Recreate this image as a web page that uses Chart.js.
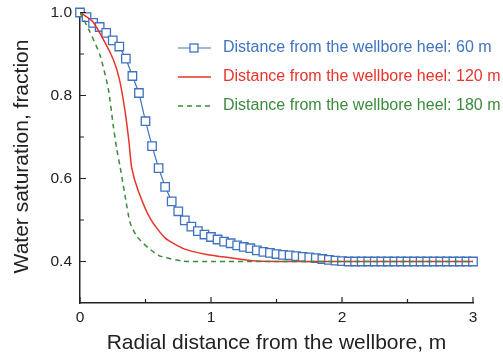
<!DOCTYPE html>
<html>
<head>
<meta charset="utf-8">
<script src="https://cdn.jsdelivr.net/npm/chart.js@4/dist/chart.umd.min.js"></script>
<style>
  html, body { margin: 0; padding: 0; background: #fff; }
  #wrap { width: 503px; height: 358px; }
</style>
</head>
<body>
<div id="wrap"><canvas id="chart" width="503" height="358"></canvas></div>
<script>
// Water saturation profiles vs radial distance
const SERIES_NAMES = [
  'Distance from the wellbore heel: 60 m',
  'Distance from the wellbore heel: 120 m',
  'Distance from the wellbore heel: 180 m',
];

const X_60 = [
  0, 0.05, 0.1, 0.15, 0.2, 0.25, 0.3, 0.35, 0.4, 0.45,
  0.5, 0.55, 0.6, 0.65, 0.7, 0.75, 0.8, 0.85, 0.9, 0.95,
  1.0, 1.05, 1.1, 1.15, 1.2, 1.25, 1.3, 1.35, 1.4, 1.45,
  1.5, 1.55, 1.6, 1.65, 1.7, 1.75, 1.8, 1.85, 1.9, 1.95,
  2.0, 2.05, 2.1, 2.15, 2.2, 2.25, 2.3, 2.35, 2.4, 2.45,
  2.5, 2.55, 2.6, 2.65, 2.7, 2.75, 2.8, 2.85, 2.9, 2.95, 3.0,
];
const Y_60 = [
  1.0, 0.989, 0.975, 0.965, 0.951, 0.933, 0.918, 0.889, 0.847, 0.806,
  0.738, 0.678, 0.625, 0.580, 0.545, 0.521, 0.499, 0.484, 0.473, 0.465,
  0.459, 0.453, 0.448, 0.444, 0.439, 0.435, 0.432, 0.427, 0.423, 0.421,
  0.418, 0.416, 0.415, 0.413, 0.411, 0.410, 0.408, 0.406, 0.404, 0.402,
  0.401, 0.400, 0.400, 0.400, 0.400, 0.400, 0.400, 0.400, 0.400, 0.400,
  0.400, 0.400, 0.400, 0.400, 0.400, 0.400, 0.400, 0.400, 0.400, 0.400, 0.400,
];

const X_120 = [0, 0.1, 0.24, 0.3, 0.345, 0.375, 0.394, 0.445, 0.539, 0.649, 0.789, 0.967, 1.145, 1.32, 1.6, 2.0, 2.5, 3.0];
const Y_120 = [1.0, 0.977, 0.897, 0.84, 0.76, 0.685, 0.627, 0.570, 0.502, 0.457, 0.431, 0.417, 0.409, 0.402, 0.400, 0.400, 0.400, 0.400];

const X_180 = [0, 0.076, 0.153, 0.216, 0.254, 0.28, 0.305, 0.344, 0.382, 0.433, 0.52, 0.611, 0.789, 1.0, 1.5, 2.0, 2.5, 3.0];
const Y_180 = [1.0, 0.953, 0.897, 0.816, 0.727, 0.672, 0.630, 0.558, 0.494, 0.461, 0.433, 0.413, 0.401, 0.400, 0.400, 0.400, 0.400, 0.400];

const X_TICKS = [0, 1, 2, 3];
const X_MINOR = [0.5, 1.5, 2.5];
const Y_TICKS = [0.4, 0.6, 0.8, 1.0];
const Y_MINOR = [0.5, 0.7, 0.9];

const BLUE = '#3f72c0';
const RED = '#e8342a';
const GREEN = '#3a8c3a';
const FONT = 'Liberation Sans, Arial, sans-serif';

function toPoints(xs, ys) {
  return xs.map((x, i) => ({ x, y: ys[i] }));
}

// inward ticks + in-plot legend
const extras = {
  id: 'extras',
  afterDraw(chart) {
    const ctx = chart.ctx;
    const xs = chart.scales.x, ys = chart.scales.y;
    const ax = xs.left, ay = ys.bottom;
    ctx.save();
    ctx.strokeStyle = '#222';
    ctx.lineWidth = 1.2;
    ctx.beginPath();
    X_TICKS.forEach(v => { const p = xs.getPixelForValue(v); ctx.moveTo(p, ay); ctx.lineTo(p, ay - 6); });
    X_MINOR.forEach(v => { const p = xs.getPixelForValue(v); ctx.moveTo(p, ay); ctx.lineTo(p, ay - 4); });
    Y_TICKS.forEach(v => { const p = ys.getPixelForValue(v); ctx.moveTo(ax, p); ctx.lineTo(ax + 6, p); });
    Y_MINOR.forEach(v => { const p = ys.getPixelForValue(v); ctx.moveTo(ax, p); ctx.lineTo(ax + 4, p); });
    ctx.stroke();

    // legend
    const rows = [
      { y: 48, color: BLUE, dash: [], marker: true, width: 1.2 },
      { y: 77, color: RED, dash: [], marker: false, width: 1.5 },
      { y: 106, color: GREEN, dash: [5, 4], marker: false, width: 1.5 },
    ];
    ctx.font = '16px ' + FONT;
    ctx.textBaseline = 'middle';
    ctx.textAlign = 'left';
    rows.forEach((r, i) => {
      ctx.strokeStyle = r.color;
      ctx.lineWidth = r.width;
      ctx.setLineDash(r.dash);
      ctx.beginPath();
      ctx.moveTo(178, r.y);
      ctx.lineTo(211, r.y);
      ctx.stroke();
      ctx.setLineDash([]);
      if (r.marker) {
        ctx.fillStyle = '#fff';
        ctx.lineWidth = 1.3;
        ctx.fillRect(190, r.y - 4, 8, 8);
        ctx.strokeRect(190, r.y - 4, 8, 8);
      }
      ctx.fillStyle = r.color;
      ctx.fillText(SERIES_NAMES[i], 223, r.y);
    });
    ctx.restore();
  }
};

new Chart(document.getElementById('chart'), {
  type: 'line',
  data: {
    datasets: [
      {
        label: SERIES_NAMES[2],
        data: toPoints(X_180, Y_180),
        borderColor: GREEN,
        borderWidth: 1.5,
        borderDash: [5, 4],
        pointRadius: 0,
        tension: 0.2,
      },
      {
        label: SERIES_NAMES[1],
        data: toPoints(X_120, Y_120),
        borderColor: RED,
        borderWidth: 1.5,
        pointRadius: 0,
        tension: 0.2,
      },
      {
        label: SERIES_NAMES[0],
        data: toPoints(X_60, Y_60),
        borderColor: BLUE,
        borderWidth: 1.2,
        pointStyle: 'rect',
        pointRadius: 6,
        pointBorderWidth: 1.3,
        pointBackgroundColor: '#fff',
        pointBorderColor: BLUE,
        tension: 0,
        clip: false,
      },
    ],
  },
  options: {
    responsive: false,
    animation: false,
    devicePixelRatio: 1,
    layout: { padding: { left: 0, right: 30, top: 10, bottom: 0 } },
    plugins: { legend: { display: false }, tooltip: { enabled: false } },
    scales: {
      x: {
        type: 'linear',
        min: 0,
        max: 3,
        afterFit: s => { s.height = 55; s.paddingLeft = 0; s.paddingRight = 0; },
        afterBuildTicks: s => { s.ticks = X_TICKS.map(v => ({ value: v })); },
        ticks: { font: { family: FONT, size: 15.5 }, color: '#222', padding: 5 },
        grid: { drawOnChartArea: false, drawTicks: false },
        border: { display: true, color: '#222', width: 1.5 },
        title: {
          display: true,
          text: 'Radial distance from the wellbore, m',
          font: { family: FONT, size: 21 },
          color: '#222',
          padding: { top: 0, bottom: 2 },
        },
      },
      y: {
        type: 'linear',
        min: 0.3,
        max: 1.006,
        afterFit: s => { s.width = 80; s.paddingTop = 0; s.paddingBottom = 0; },
        afterBuildTicks: s => { s.ticks = Y_TICKS.map(v => ({ value: v })); },
        ticks: {
          font: { family: FONT, size: 15.5 },
          color: '#222',
          padding: 8,
          callback: v => v.toFixed(1),
        },
        grid: { drawOnChartArea: false, drawTicks: false },
        border: { display: true, color: '#222', width: 1.5 },
        title: {
          display: true,
          text: 'Water saturation, fraction',
          font: { family: FONT, size: 21 },
          color: '#222',
          padding: { top: 10, bottom: 0 },
        },
      },
    },
  },
  plugins: [extras],
});
</script>
</body>
</html>
